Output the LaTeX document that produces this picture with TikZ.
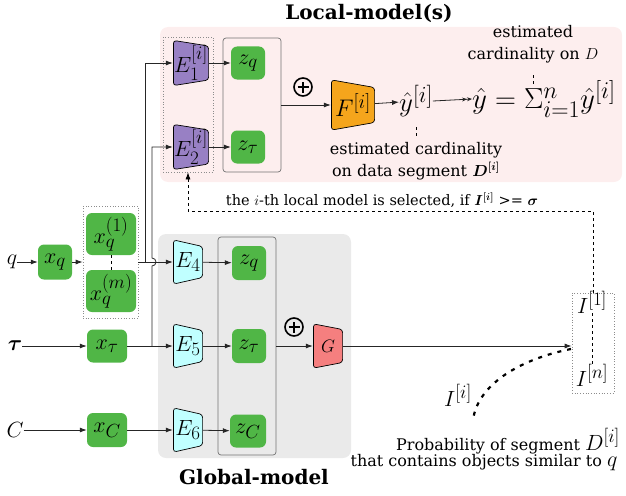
\documentclass[tikz,border=0pt]{standalone}
\usepackage{fix-cm}
\usepackage{amsmath}
\usepackage[no-math]{fontspec}
\setmainfont{DejaVu Serif}
\usetikzlibrary{arrows.meta,calc}
\DeclareMathSizes{22}{22}{19}{16}
\DeclareMathSizes{24}{24}{20}{17}
\DeclareMathSizes{27}{27}{23}{19}
\DeclareMathSizes{29}{29}{24}{20}
\DeclareMathSizes{18}{18}{15}{12}
\definecolor{grn}{RGB}{80,182,70}
\definecolor{purp}{RGB}{152,128,196}
\definecolor{cyn}{RGB}{192,255,255}
\definecolor{orng}{RGB}{245,165,28}
\definecolor{redg}{RGB}{245,127,127}
\definecolor{pinkbg}{RGB}{253,238,238}
\definecolor{graybg}{RGB}{234,234,234}
\newcommand{\msz}{\fontsize{22}{26}\selectfont}
\newcommand{\mbig}{\fontsize{27}{31}\selectfont}
\newcommand{\mhuge}{\fontsize{29}{33}\selectfont}
\newcommand{\tsz}{\fontsize{16}{22}\selectfont}
\newcommand{\tsm}{\fontsize{14.5}{18}\selectfont}
\tikzset{
  gbox/.style={fill=grn, rounded corners=6pt, inner sep=0pt, font=\msz},
  trap/.style 2 args={inner sep=0pt, font=\msz,
    path picture={
      \path[fill=#1, draw=black, line width=0.7pt, rounded corners=3pt]
        ([shift={(0.4pt,-0.4pt)}]path picture bounding box.north west)
        -- ([shift={(-0.4pt,-#2)}]path picture bounding box.north east)
        -- ([shift={(-0.4pt,#2)}]path picture bounding box.south east)
        -- ([shift={(0.4pt,0.4pt)}]path picture bounding box.south west) -- cycle;
    }},
  conn/.style={line width=0.8pt, draw=black!85, -{Latex[length=7pt,width=5pt]}},
  dotbox/.style={draw=black!45, dotted, line width=0.7pt, inner sep=0pt},
  frame/.style={draw=black!55, line width=0.7pt, rounded corners=3pt, inner sep=0pt},
  dashline/.style={dashed, line width=0.7pt, draw=black},
  oplus/.style={circle, draw=black, line width=1.6pt, minimum size=18pt, inner sep=0pt,
    path picture={
      \draw[line width=1.6pt] ([xshift=-5.5pt]path picture bounding box.center) -- ([xshift=5.5pt]path picture bounding box.center);
      \draw[line width=1.6pt] ([yshift=-5.5pt]path picture bounding box.center) -- ([yshift=5.5pt]path picture bounding box.center);
    }},
  ttl/.style={font=\fontsize{20}{24}\selectfont\bfseries, inner sep=0pt},
  txt/.style={font=\tsz, align=center, inner sep=0pt},
  mlab/.style={font=\msz, inner sep=0pt},
}
\begin{document}
\begin{tikzpicture}[x=1pt,y=-1pt]
\useasboundingbox (0,0) rectangle (626,495);
% backgrounds
\fill[pinkbg, rounded corners=8pt] (160,27) rectangle (622,182);
\fill[graybg, rounded corners=8pt] (158,234) rectangle (351,458);
\node[ttl] (ltitle) at (369,13) {Local-model(s)};
\node[ttl] (gtitle) at (254,477) {Global-model};

% inputs
\node[mlab] (q) at (12,262) {$q$};
\node[mlab] (tau) at (15,346) {$\boldsymbol{\tau}$};
\node[mlab] (C) at (15,430) {$C$};

\node[gbox, minimum width=34pt, minimum height=35pt] (xq) at (55,262) {$x_q$};
\node[gbox, minimum width=50pt, minimum height=42pt] (xq1) at (111,234) {$x_q^{(1)}$};
\node[gbox, minimum width=50pt, minimum height=42pt] (xqm) at (111,291) {$x_q^{(m)}$};
\node[dotbox, minimum width=55pt, minimum height=112pt] (xdot) at (110.5,262) {};
\node[gbox, minimum width=40pt, minimum height=33pt] (xt) at (107,346) {$x_\tau$};
\node[gbox, minimum width=40pt, minimum height=34pt] (xc) at (107,430) {$x_C$};

% local model
\node[dotbox, minimum width=50pt, minimum height=135pt] (edot) at (188,104.5) {};
\node[trap={purp}{6pt}, minimum width=36pt, minimum height=46pt] (E1) at (191,63) {$E_1^{[i]}$};
\node[trap={purp}{6pt}, minimum width=36pt, minimum height=46pt] (E2) at (191,147) {$E_2^{[i]}$};
\node[frame, minimum width=58pt, minimum height=134pt] (zbox1) at (252,105) {};
\node[gbox, minimum width=34pt, minimum height=33pt] (zq1) at (248,63) {$z_q$};
\node[gbox, minimum width=34pt, minimum height=33pt] (zt1) at (248,147) {$z_\tau$};
\node[oplus] (op1) at (303,87) {};
\node[trap={orng}{8pt}, minimum width=44pt, minimum height=51pt, font=\fontsize{24}{28}\selectfont] (F) at (353,105) {$F^{[i]}$};
\node[inner sep=0pt, font=\mbig] (yi) at (416,101) {$\hat{y}^{[i]}$};
\node[inner sep=0pt, font=\mhuge, anchor=west] (ysum) at (472,99) {$\hat{y} = \Sigma_{i=1}^{n}\hat{y}^{[i]}$};
\node[txt] (estD) at (533,44) {estimated\\cardinality on $D$};
\node[txt] (estDi) at (416,161) {estimated cardinality\\on data segment $\boldsymbol{D^{[i]}}$};

% global model
\node[trap={cyn}{7pt}, minimum width=30pt, minimum height=45pt] (E4) at (188,262) {$E_4$};
\node[trap={cyn}{7pt}, minimum width=30pt, minimum height=45pt] (E5) at (188,346) {$E_5$};
\node[trap={cyn}{7pt}, minimum width=30pt, minimum height=45pt] (E6) at (188,430) {$E_6$};
\node[frame, minimum width=58pt, minimum height=218pt] (zbox2) at (247,346) {};
\node[gbox, minimum width=34pt, minimum height=34pt] (zq2) at (249,263) {$z_q$};
\node[gbox, minimum width=34pt, minimum height=34pt] (zt2) at (249,346) {$z_\tau$};
\node[gbox, minimum width=36pt, minimum height=33pt] (zc2) at (248,431) {$z_C$};
\node[oplus] (op2) at (294,327) {};
\node[trap={redg}{6pt}, minimum width=30pt, minimum height=45pt, font=\fontsize{18}{21}\selectfont] (G) at (328,346) {$G$};

% indicator
\node[dotbox, minimum width=42pt, minimum height=100pt] (ibox) at (593,343) {};
\node[mlab] (I1) at (592,302) {$I^{[1]}$};
\node[mlab] (In) at (592,375) {$I^{[n]}$};
\node[mlab] (Ii) at (458,395) {$I^{[i]}$};
\node[txt] (prob) at (508,441) {Probability of segment {\msz$D^{[i]}$}};
\node[txt] (simq) at (484,463) {that contains objects similar to {\msz$q$}};
\node[font=\tsm, inner sep=0pt] (seltxt) at (382,200) {the $i$-th local model is selected, if $\boldsymbol{I^{[i]}}$ >= $\boldsymbol{\sigma}$};

% coordinates
\coordinate (j1) at (145,262);
\coordinate (j2) at (152,346);
\coordinate (jb) at (152,266);
\coordinate (selc) at (188,211);
\coordinate (t1a) at (416,127);
\coordinate (t1b) at (416,136);
\coordinate (t2a) at (533,75);
\coordinate (t2b) at (533,84);
\coordinate (cs) at (571,349);
\coordinate (c1) at (525,358);
\coordinate (c2) at (478,382);
\coordinate (ce) at (473,420);

% connectors
\draw[conn] (q) -- (xq);
\draw[conn] (xq) -- (xdot);
\draw[dashline] (xq1.south) -- (xqm.north);
\draw[conn] (tau) -- (xt);
\draw[conn] (C) -- (xc);
\draw[conn] (xdot.east) -- (E4.west);
\draw[conn] (xt) -- (E5);
\draw[conn] (xc) -- (E6);
\draw[conn] (j1) |- (E1.west);
\draw[conn] (j2) -- (jb) arc[start angle=-90, end angle=90, radius=4pt] |- (E2.west);
\draw[conn] (E1) -- (zq1);
\draw[conn] (E2) -- (zt1);
\draw[conn] (zbox1.east) -- (F.west);
\draw[conn] (F) -- (yi);
\draw[line width=0.8pt, draw=black!85, -{Stealth[length=5pt,width=4pt]Stealth[length=5pt,width=4pt]}] (yi.east) -- (ysum.west);
\draw[dashline] (t1a) -- (t1b);
\draw[dashline] (t2a) -- (t2b);
\draw[conn] (E4) -- (zq2);
\draw[conn] (E5) -- (zt2);
\draw[conn] (E6) -- (zc2);
\draw[conn] (zbox2.east) -- (G.west);
\draw[conn] (G.east) -- (G.east -| ibox.west);
\draw[dashline] (I1.south) -- (In.north);
\draw[dashline, -{Latex[length=7pt,width=5pt]}] (ibox.north) |- (selc) -- (edot.south);
\draw[line width=2.2pt, dash pattern=on 4pt off 6pt] (cs) .. controls (c1) and (c2) .. (ce);
\end{tikzpicture}
\end{document}
